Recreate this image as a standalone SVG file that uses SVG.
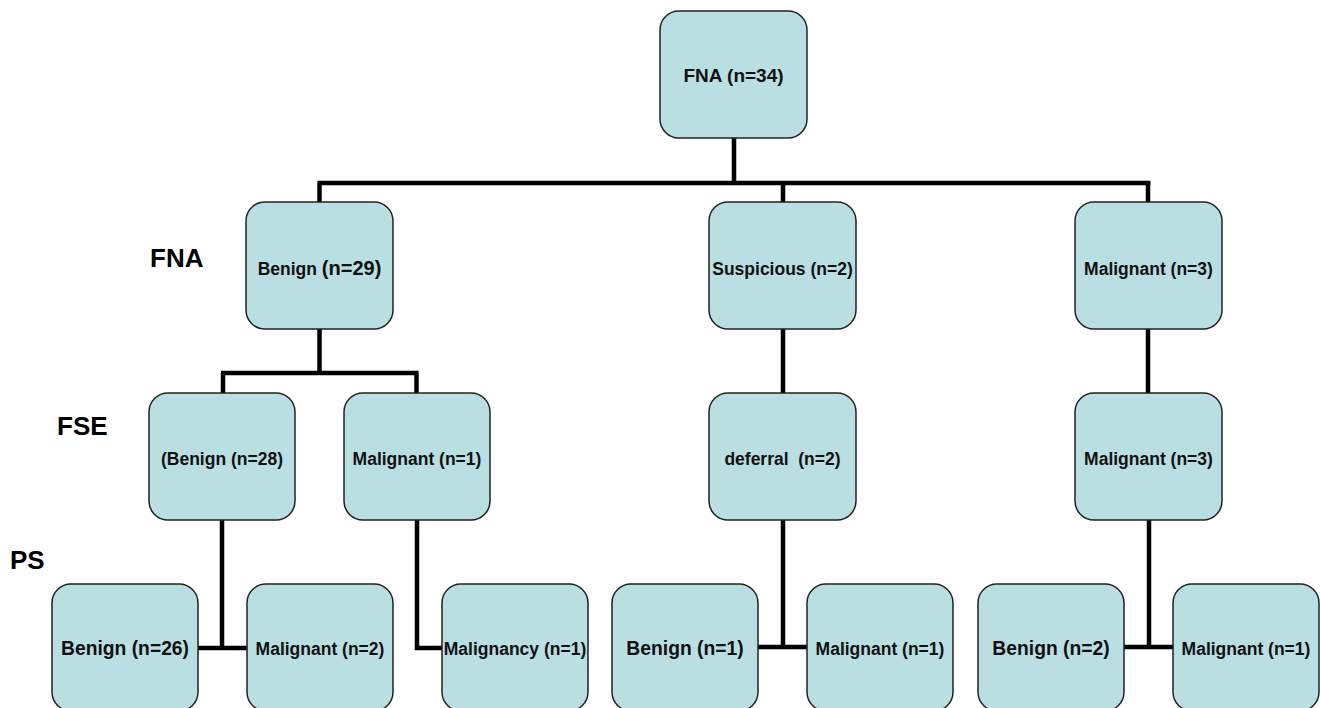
<svg xmlns="http://www.w3.org/2000/svg" width="1320" height="708" viewBox="0 0 1320 708">
<style>
.box{fill:#BADFE3;stroke:#222;stroke-width:1.5}
.t{font-family:"Liberation Sans",Arial,sans-serif;font-weight:bold;fill:#111;text-anchor:middle;font-size:17.5px}
.lg{font-size:19.3px}
.lab{font-family:"Liberation Sans",Arial,sans-serif;font-weight:bold;fill:#000;font-size:26px}
.c{stroke:#000;stroke-width:4.5;fill:none}
</style>
<rect width="1320" height="708" fill="#fff"/>
<g id="connectors">
<path class="c" d="M734 138V183M317.5 183H1150.5M319.5 183V202M783 183V202M1148 183V202"/>
<path class="c" d="M319.5 329V373M221 373H418.5M223 373V393M416.5 373V393"/>
<path class="c" d="M783 329V393M1148 329V393"/>
<path class="c" d="M222 520V648M198 648H247"/>
<path class="c" d="M417 520V648H442"/>
<path class="c" d="M783 520V647M758 647H807"/>
<path class="c" d="M1149 520V647M1124 647H1173"/>
</g>
<g id="labels">
<text class="lab" x="150" y="267">FNA</text>
<text class="lab" x="57" y="435">FSE</text>
<text class="lab" x="10" y="569">PS</text>
</g>
<g id="n0"><rect class="box" x="660" y="11" width="147" height="127" rx="19"/><text class="t" x="733.5" y="82" style="font-size:19px">FNA (n=34)</text></g>
<g id="n1"><rect class="box" x="246" y="202" width="147" height="127" rx="19"/><text class="t" x="319.5" y="275"><tspan>Benign </tspan><tspan style="font-size:20px">(n=29)</tspan></text></g>
<g id="n2"><rect class="box" x="709" y="202" width="147" height="127" rx="19"/><text class="t" x="782.5" y="275">Suspicious (n=2)</text></g>
<g id="n3"><rect class="box" x="1075" y="202" width="147" height="127" rx="19"/><text class="t" x="1148.5" y="275">Malignant (n=3)</text></g>
<g id="n4"><rect class="box" x="149" y="393" width="146" height="127" rx="19"/><text class="t" x="222" y="465">(Benign (n=28)</text></g>
<g id="n5"><rect class="box" x="344" y="393" width="146" height="127" rx="19"/><text class="t" x="417" y="465">Malignant (n=1)</text></g>
<g id="n6"><rect class="box" x="709" y="393" width="147" height="127" rx="19"/><text class="t" x="782.5" y="465" xml:space="preserve">deferral  (n=2)</text></g>
<g id="n7"><rect class="box" x="1075" y="393" width="147" height="127" rx="19"/><text class="t" x="1148.5" y="465">Malignant (n=3)</text></g>
<g id="n8"><rect class="box" x="52" y="584" width="146" height="127" rx="19"/><text class="t lg" x="125" y="655">Benign (n=26)</text></g>
<g id="n9"><rect class="box" x="247" y="584" width="146" height="127" rx="19"/><text class="t" x="320" y="655">Malignant (n=2)</text></g>
<g id="n10"><rect class="box" x="442" y="584" width="146" height="127" rx="19"/><text class="t" x="515" y="655">Malignancy (n=1)</text></g>
<g id="n11"><rect class="box" x="612" y="584" width="146" height="127" rx="19"/><text class="t lg" x="685" y="655">Benign (n=1)</text></g>
<g id="n12"><rect class="box" x="807" y="584" width="146" height="127" rx="19"/><text class="t" x="880" y="655">Malignant (n=1)</text></g>
<g id="n13"><rect class="box" x="978" y="584" width="146" height="127" rx="19"/><text class="t lg" x="1051" y="655">Benign (n=2)</text></g>
<g id="n14"><rect class="box" x="1173" y="584" width="146" height="127" rx="19"/><text class="t" x="1246" y="655">Malignant (n=1)</text></g>
</svg>
